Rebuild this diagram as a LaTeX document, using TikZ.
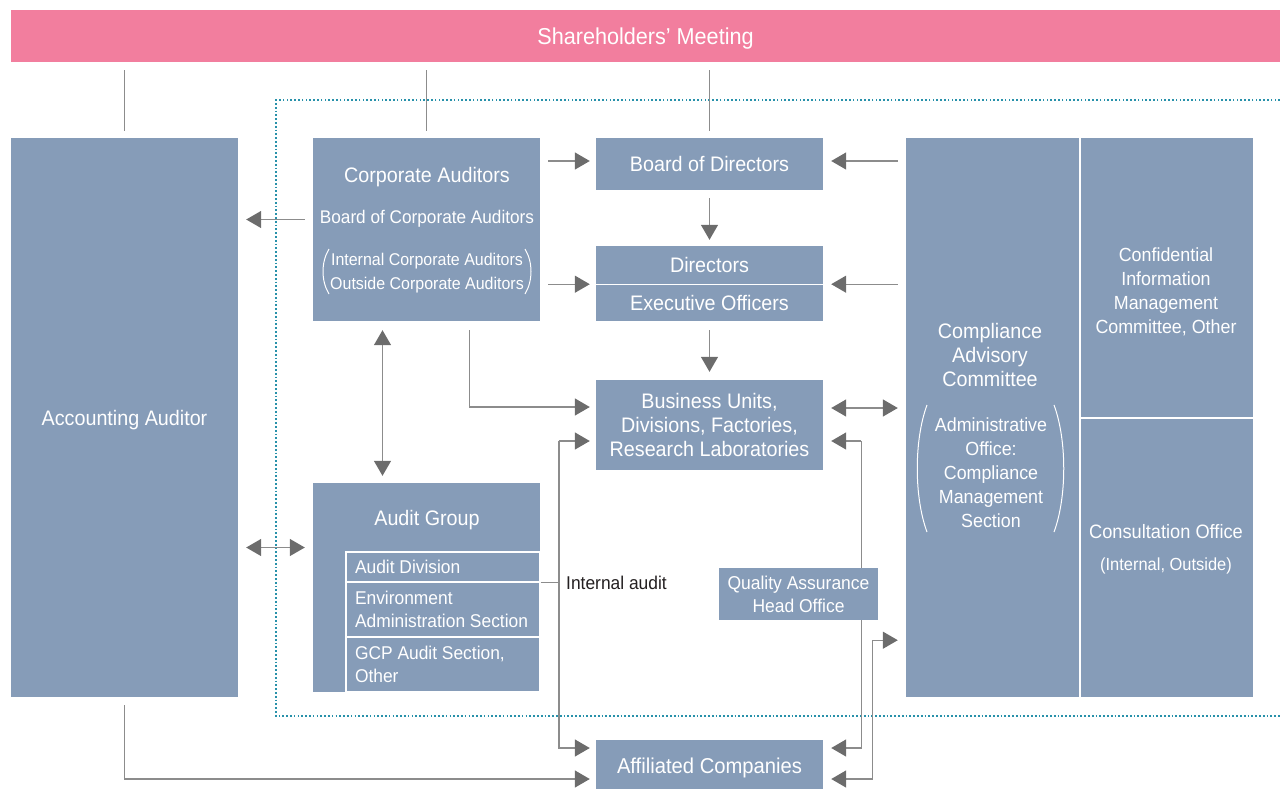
\documentclass[tikz,border=0pt]{standalone}
\usepackage{fontspec}
\setmainfont{Liberation Sans}[FakeStretch=0.94]
\usetikzlibrary{arrows.meta,calc}
\definecolor{boxc}{RGB}{134,156,184}
\definecolor{pinkc}{RGB}{242,126,158}
\definecolor{linec}{RGB}{140,140,140}
\definecolor{tipc}{RGB}{108,108,108}
\definecolor{framec}{RGB}{40,145,170}
\definecolor{inkc}{RGB}{35,31,32}
\newcommand\fsz[2]{\fontsize{#1}{#2}\selectfont}
\tikzset{
  box/.style={fill=boxc, inner sep=0pt, text=white, align=center, anchor=center, text depth=0pt},
  txt/.style={inner sep=0pt, text=white, align=center, anchor=center, text depth=0pt},
  sub/.style={fill=boxc, draw=white, line width=1.2pt, inner xsep=9pt, inner ysep=0pt, text=white, align=flush left, text width=176pt, minimum height=#1},
  conn/.style={draw=linec, line width=1.4pt},
  arr/.style={conn, -{Triangle[length=15pt,width=17pt,color=tipc,fill=tipc]}},
  darr/.style={conn, {Triangle[length=15pt,width=17pt,color=tipc,fill=tipc]}-{Triangle[length=15pt,width=17pt,color=tipc,fill=tipc]}},
  paren/.style={draw=white, line width=1pt},
  frame/.style={draw=framec, line width=1.7pt, dash pattern=on 1.7pt off 2.1pt}
}
\begin{document}
\begin{tikzpicture}[x=1pt,y=-1pt]
\useasboundingbox (0,0) rectangle (1280,788);
% dotted frame
\draw[frame] (1280,100) -- (276,100) -- (276,716) -- (1280,716);
% boxes
\node[box, fill=pinkc, minimum width=1269, minimum height=52, font=\fsz{23}{28}] (sh) at (645.5,36) {Shareholders’ Meeting};
\node[box, minimum width=227, minimum height=559, font=\fsz{21}{25}] (acc) at (124.5,417.5) {Accounting Auditor};
\node[box, minimum width=227, minimum height=183] (ca) at (426.5,229.5) {};
\node[txt, font=\fsz{21}{25}] (catitle) at (427,175) {Corporate Auditors};
\node[txt, font=\fsz{18.3}{22}] (caboard) at (427,217) {Board of Corporate Auditors};
\node[txt, font=\fsz{17}{24}] (camem) at (427,271) {Internal Corporate Auditors\\Outside Corporate Auditors};
\draw[paren] (329,249) .. controls (321,262) and (321,281) .. (329,294);
\draw[paren] (525,249) .. controls (533,262) and (533,281) .. (525,294);
\node[box, minimum width=227, minimum height=52, font=\fsz{21}{25}] (bod) at (709.5,164) {Board of Directors};
\node[box, minimum width=227, minimum height=38, font=\fsz{21}{25}] (dir) at (709.5,265) {Directors};
\node[box, minimum width=227, minimum height=37, font=\fsz{21}{25}] (exe) at (709.5,302.5) {Executive Officers};
\draw[white, line width=1.3pt] (dir.south west) -- (dir.south east);
\node[box, minimum width=227, minimum height=90, font=\fsz{21}{24}] (bu) at (709.5,425) {Business Units,\\Divisions, Factories,\\Research Laboratories};
\node[box, minimum width=227, minimum height=209] (ag) at (426.5,587.5) {};
\node[txt, font=\fsz{21}{25}] (agtitle) at (427,518) {Audit Group};
\node[sub=30pt, font=\fsz{18.5}{23}] (ad) at (443,567) {Audit Division};
\node[sub=55pt, font=\fsz{18.5}{23}] (env) at (443,609.5) {Environment\\Administration Section};
\node[sub=55pt, font=\fsz{18.5}{23}] (gcp) at (443,664.5) {GCP Audit Section,\\Other};
\node[box, minimum width=227, minimum height=52, font=\fsz{21.5}{25}] (aff) at (709.5,766) {Affiliated Companies};
\node[box, minimum width=173, minimum height=559] (cac) at (992.5,417.5) {};
\node[txt, font=\fsz{21}{24}] (cactitle) at (990,355) {Compliance\\Advisory\\Committee};
\node[txt, font=\fsz{19}{24}] (cacoff) at (991,473) {Administrative\\Office:\\Compliance\\Management\\Section};
\draw[paren] (927,405) .. controls (914,440) and (914,497) .. (927,532);
\draw[paren] (1054,405) .. controls (1067,440) and (1067,497) .. (1054,532);
\node[box, minimum width=172, minimum height=279] (cim) at (1167,277.5) {};
\node[txt, font=\fsz{19}{24}] (cimt) at (1166,291) {Confidential\\Information\\Management\\Committee, Other};
\node[box, minimum width=172, minimum height=278] (con) at (1167,558) {};
\node[txt, font=\fsz{19.4}{24}] (cont) at (1166,531) {Consultation Office};
\node[txt, font=\fsz{17.5}{22}] (cont2) at (1166,564) {(Internal, Outside)};
% connectors from shareholders
\draw[conn] ($(sh.south -| acc.north)+(0,8)$) -- ($(acc.north)+(0,-7)$);
\draw[conn] ($(sh.south -| ca.north)+(0,8)$) -- ($(ca.north)+(0,-7)$);
\draw[conn] ($(sh.south -| bod.north)+(0,8)$) -- ($(bod.north)+(0,-7)$);
% corporate auditors
\draw[arr] ($(ca.east |- bod.west)+(8,-3)$) -- ($(bod.west)+(-6,-3)$);
\draw[arr] ($(ca.east |- dir.south)+(8,0)$) -- ($(dir.south west)+(-6,0)$);
\draw[arr] ($(ca.west)+(-8,-10)$) -- ($(acc.east |- ca.west)+(8,-10)$);
\draw[darr] ($(ca.south)+(-44,9)$) -- ($(ag.north)+(-44,-7)$);
\draw[arr] ($(ca.south)+(43,9)$) |- ($(bu.west)+(-6,-18)$);
\draw[darr] ($(acc.east |- ag.west)+(8,-40)$) -- ($(ag.west)+(-8,-40)$);
% board / directors / business
\draw[arr] ($(bod.south)+(0,8)$) -- ($(dir.north)+(0,-6)$);
\draw[arr] ($(exe.south)+(0,9)$) -- ($(bu.north)+(0,-8)$);
% compliance
\draw[arr] ($(cac.west |- bod.east)+(-8,-3)$) -- ($(bod.east)+(8,-3)$);
\draw[arr] ($(cac.west |- dir.south)+(-8,0)$) -- ($(dir.south east)+(8,0)$);
\draw[darr] ($(bu.east)+(8,-17)$) -- ($(cac.west |- bu.east)+(-8,-17)$);
% internal audit
\coordinate (iatop) at ($(bu.west)+(-37,16)$);
\draw[conn] (ad.south east) -- (ad.south east -| iatop);
\draw[arr] (iatop) -- ($(bu.west)+(-6,16)$);
\draw[arr] (iatop) |- ($(aff.west)+(-6,-18)$);
\node[inner sep=0pt, anchor=west, text=inkc, font=\fsz{18.5}{22}, text depth=0pt] (ialabel) at (566,583) {Internal audit};
% quality assurance
\coordinate (qtop) at ($(bu.east)+(38,16)$);
\draw[arr] (qtop) -- ($(bu.east)+(8,16)$);
\draw[arr] (qtop) |- ($(aff.east)+(8,-18)$);
\node[box, minimum width=159, minimum height=52, font=\fsz{18.6}{23}] (qa) at (798.5,594) {Quality Assurance\\Head Office};
% affiliated
\coordinate (affx) at ($(aff.east)+(49,13)$);
\draw[darr] ($(aff.east)+(8,13)$) -- (affx) |- ($(cac.south west)+(-8,-57)$);
\draw[arr] ($(acc.south)+(0,8)$) |- ($(aff.west)+(-6,13)$);
\end{tikzpicture}
\end{document}
